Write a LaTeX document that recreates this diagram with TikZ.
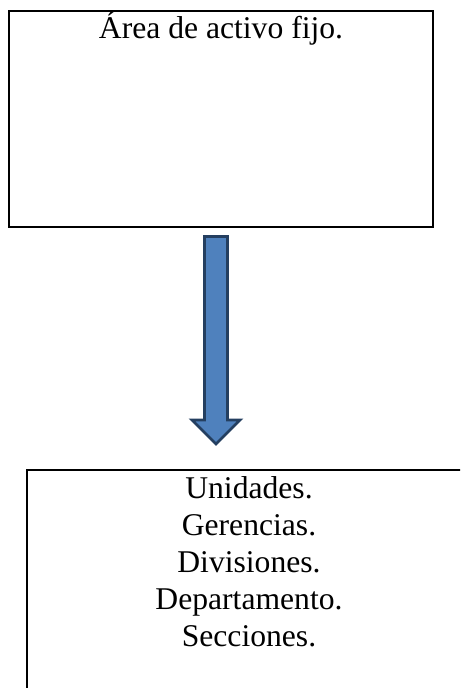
\documentclass[tikz,border=0pt]{standalone}
\usepackage{fontspec}
\setmainfont{Liberation Serif}
\usetikzlibrary{calc}
\definecolor{flechaazul}{HTML}{4F81BD}
\definecolor{flechaborde}{HTML}{243F60}

\begin{document}
\begin{tikzpicture}[x=0.25mm, y=-0.25mm,
	caja/.style={draw, rectangle, line width=0.5mm},
	texto/.style={font=\fontsize{22.5}{26.2}\selectfont, align=center, inner sep=0pt},
	flecha/.style={draw=flechaborde, fill=flechaazul, line width=0.68mm, line join=miter}]
			\clip (0,0) rectangle (460,688);
			\node[caja, minimum width=106mm, minimum height=54mm] (area) at (221,119) {};
			\node[texto, anchor=base] (titulo) at ($ (area.north) +(0,29) $) {Área de activo fijo.};
			\node[caja, minimum width=111mm, minimum height=62.5mm] (bajo) at (249,595) {};
			\node[texto, anchor=north] (lista) at ($ (bajo.north) +(0,7.5) $) {Unidades.\\ Gerencias.\\ Divisiones.\\ Departamento.\\ Secciones.};
			% flecha de bloque entre las dos cajas
			\coordinate (ini) at (216,236.5);
			\coordinate (fin) at (216,444);
			\draw[flecha] ($ (ini) +(-11.5,0) $) -- ($ (ini) +(11.5,0) $) -- ($ (fin) +(11.5,-24) $) -- ($ (fin) +(24,-24) $) -- (fin)
				-- ($ (fin) +(-24,-24) $) -- ($ (fin) +(-11.5,-24) $) -- cycle;
		\end{tikzpicture}
\end{document}
